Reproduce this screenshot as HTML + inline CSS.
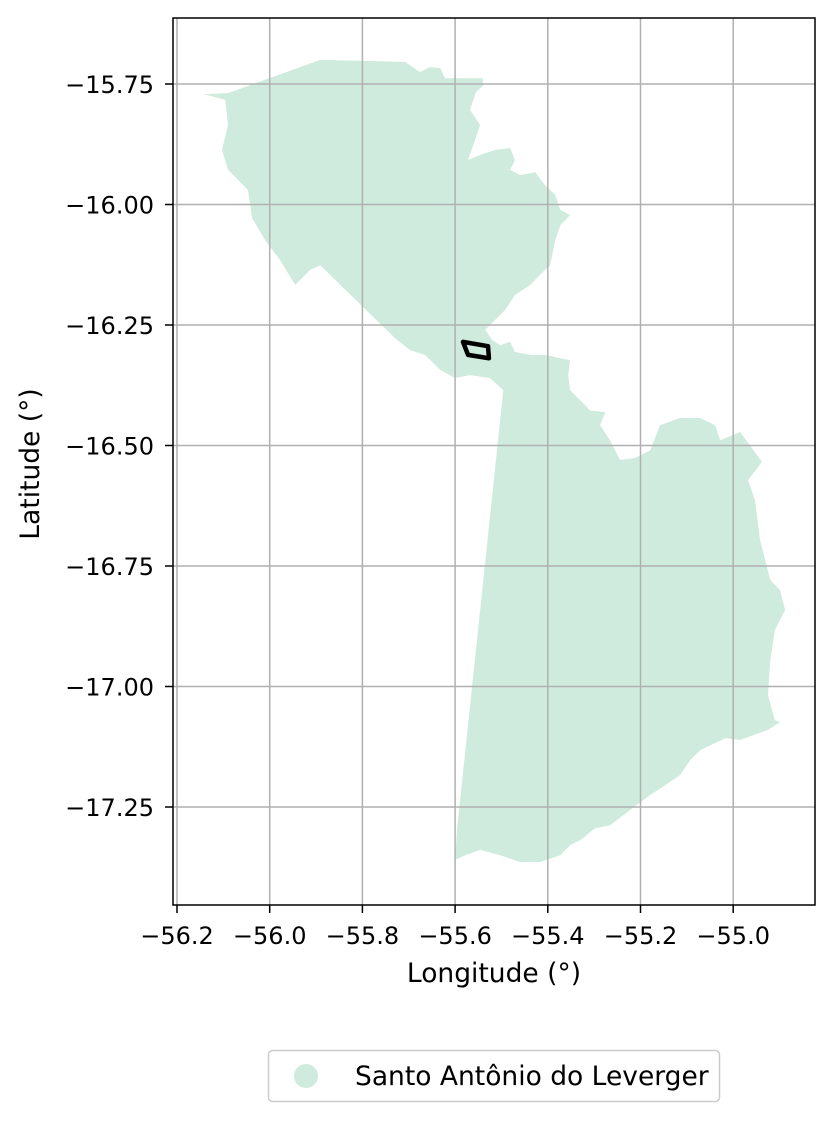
<!DOCTYPE html>
<html><head><meta charset="utf-8"><style>
body{margin:0;background:#fff;}
svg{display:block;font-family:"DejaVu Sans","Liberation Sans",sans-serif;}
</style></head><body>
<svg id="chart" width="834" height="1121" viewBox="0 0 834 1121"></svg>
<script>
const xTicks=[-56.2,-56.0,-55.8,-55.6,-55.4,-55.2,-55.0];
const xTickLabels=["−56.2","−56.0","−55.8","−55.6","−55.4","−55.2","−55.0"];
const yTicks=[-15.75,-16.00,-16.25,-16.50,-16.75,-17.00,-17.25];
const yTickLabels=["−15.75","−16.00","−16.25","−16.50","−16.75","−17.00","−17.25"];
const regionLon=[-56.142,-56.090,-55.891,-55.708,-55.676,-55.654,-55.632,-55.622,-55.540,-55.540,-55.555,-55.568,-55.546,-55.557,-55.572,-55.546,-55.514,-55.481,-55.471,-55.481,-55.460,-55.427,-55.406,-55.384,-55.373,-55.352,-55.373,-55.384,-55.395,-55.417,-55.438,-55.471,-55.492,-55.514,-55.535,-55.520,-55.503,-55.481,-55.471,-55.438,-55.406,-55.373,-55.352,-55.356,-55.352,-55.330,-55.309,-55.276,-55.287,-55.266,-55.244,-55.212,-55.179,-55.158,-55.115,-55.071,-55.039,-55.028,-54.985,-54.938,-54.968,-54.953,-54.942,-54.920,-54.899,-54.888,-54.910,-54.920,-54.925,-54.910,-54.899,-54.925,-54.985,-55.017,-55.071,-55.093,-55.115,-55.147,-55.179,-55.222,-55.266,-55.298,-55.330,-55.352,-55.373,-55.417,-55.460,-55.503,-55.546,-55.578,-55.600,-55.596,-55.496,-55.525,-55.568,-55.600,-55.632,-55.665,-55.697,-55.730,-55.891,-55.913,-55.945,-55.978,-56.010,-56.038,-56.047,-56.090,-56.103,-56.090,-56.096];
const regionLat=[-15.771,-15.769,-15.700,-15.704,-15.725,-15.715,-15.717,-15.738,-15.738,-15.754,-15.767,-15.804,-15.835,-15.866,-15.908,-15.897,-15.887,-15.883,-15.908,-15.928,-15.939,-15.933,-15.960,-15.980,-16.011,-16.022,-16.043,-16.074,-16.126,-16.146,-16.167,-16.188,-16.219,-16.240,-16.260,-16.281,-16.292,-16.285,-16.306,-16.312,-16.312,-16.319,-16.323,-16.354,-16.385,-16.406,-16.427,-16.431,-16.458,-16.489,-16.530,-16.526,-16.510,-16.458,-16.443,-16.443,-16.458,-16.489,-16.472,-16.534,-16.572,-16.613,-16.696,-16.779,-16.800,-16.841,-16.883,-16.945,-17.018,-17.070,-17.074,-17.090,-17.111,-17.107,-17.132,-17.153,-17.184,-17.205,-17.225,-17.256,-17.288,-17.294,-17.319,-17.329,-17.350,-17.364,-17.364,-17.350,-17.339,-17.350,-17.360,-17.298,-16.385,-16.360,-16.354,-16.360,-16.343,-16.312,-16.302,-16.277,-16.126,-16.136,-16.167,-16.115,-16.074,-16.028,-15.970,-15.928,-15.887,-15.835,-15.783];
const siteLon=[-55.583,-55.529,-55.527,-55.572];
const siteLat=[-16.285,-16.294,-16.319,-16.312];

const L=173,R=815,T=18,B=905;
const xs=v=>177+(v+56.2)*463.5;
const ys=v=>84+(-15.75-v)*482;
const svg=document.getElementById('chart');
const NS='http://www.w3.org/2000/svg';
function mk(tag,attrs,parent){const e=document.createElementNS(NS,tag);for(const k in attrs)e.setAttribute(k,attrs[k]);(parent||svg).appendChild(e);return e;}

const reg=mk('polygon',{points:regionLon.map((v,i)=>xs(v)+','+ys(regionLat[i])).join(' '),fill:'#cfebdd',stroke:'none'});



xTicks.forEach((v,i)=>{
  const g=mk('line',{x1:xs(v),x2:xs(v),y1:T,y2:B,stroke:'#b0b0b0','stroke-width':1.5});
  
  
  const t=mk('line',{x1:xs(v),x2:xs(v),y1:B,y2:B+8,stroke:'#000','stroke-width':1.5});
  
  
  const l=mk('text',{x:xs(v),y:944,'text-anchor':'middle','font-size':24,fill:'#000'});
  l.textContent=xTickLabels[i];
  
  
});
yTicks.forEach((v,i)=>{
  const g=mk('line',{x1:L,x2:R,y1:ys(v),y2:ys(v),stroke:'#b0b0b0','stroke-width':1.5});
  
  
  const t=mk('line',{x1:L-8,x2:L,y1:ys(v),y2:ys(v),stroke:'#000','stroke-width':1.5});
  
  
  const l=mk('text',{x:L-19,y:ys(v)+9,'text-anchor':'end','font-size':24,fill:'#000'});
  l.textContent=yTickLabels[i];
  
  
});

const site=mk('polygon',{points:siteLon.map((v,i)=>xs(v)+','+ys(siteLat[i])).join(' '),fill:'none',stroke:'#000','stroke-width':4.5,'stroke-linejoin':'round'});



const frame=mk('rect',{x:L,y:T,width:R-L,height:B-T,fill:'none',stroke:'#000','stroke-width':1.5});



const xt=mk('text',{x:494,y:982,'text-anchor':'middle','font-size':26.5,fill:'#000'});
xt.textContent='Longitude (°)';


const yt=mk('text',{x:39,y:464,'text-anchor':'middle','font-size':26.5,fill:'#000',transform:'rotate(-90 39 464)'});
yt.textContent='Latitude (°)';



const lg=mk('g',{});


mk('rect',{x:268.5,y:1050.5,width:451,height:51,rx:4,fill:'#fff',stroke:'#ccc','stroke-width':1.5},lg);
const lm=mk('circle',{cx:306,cy:1076,r:12,fill:'#cfebdd'},lg);


const lt=mk('text',{x:355,y:1085,'font-size':26.5,fill:'#000'},lg);
lt.textContent='Santo Antônio do Leverger';


</script>
</body></html>
